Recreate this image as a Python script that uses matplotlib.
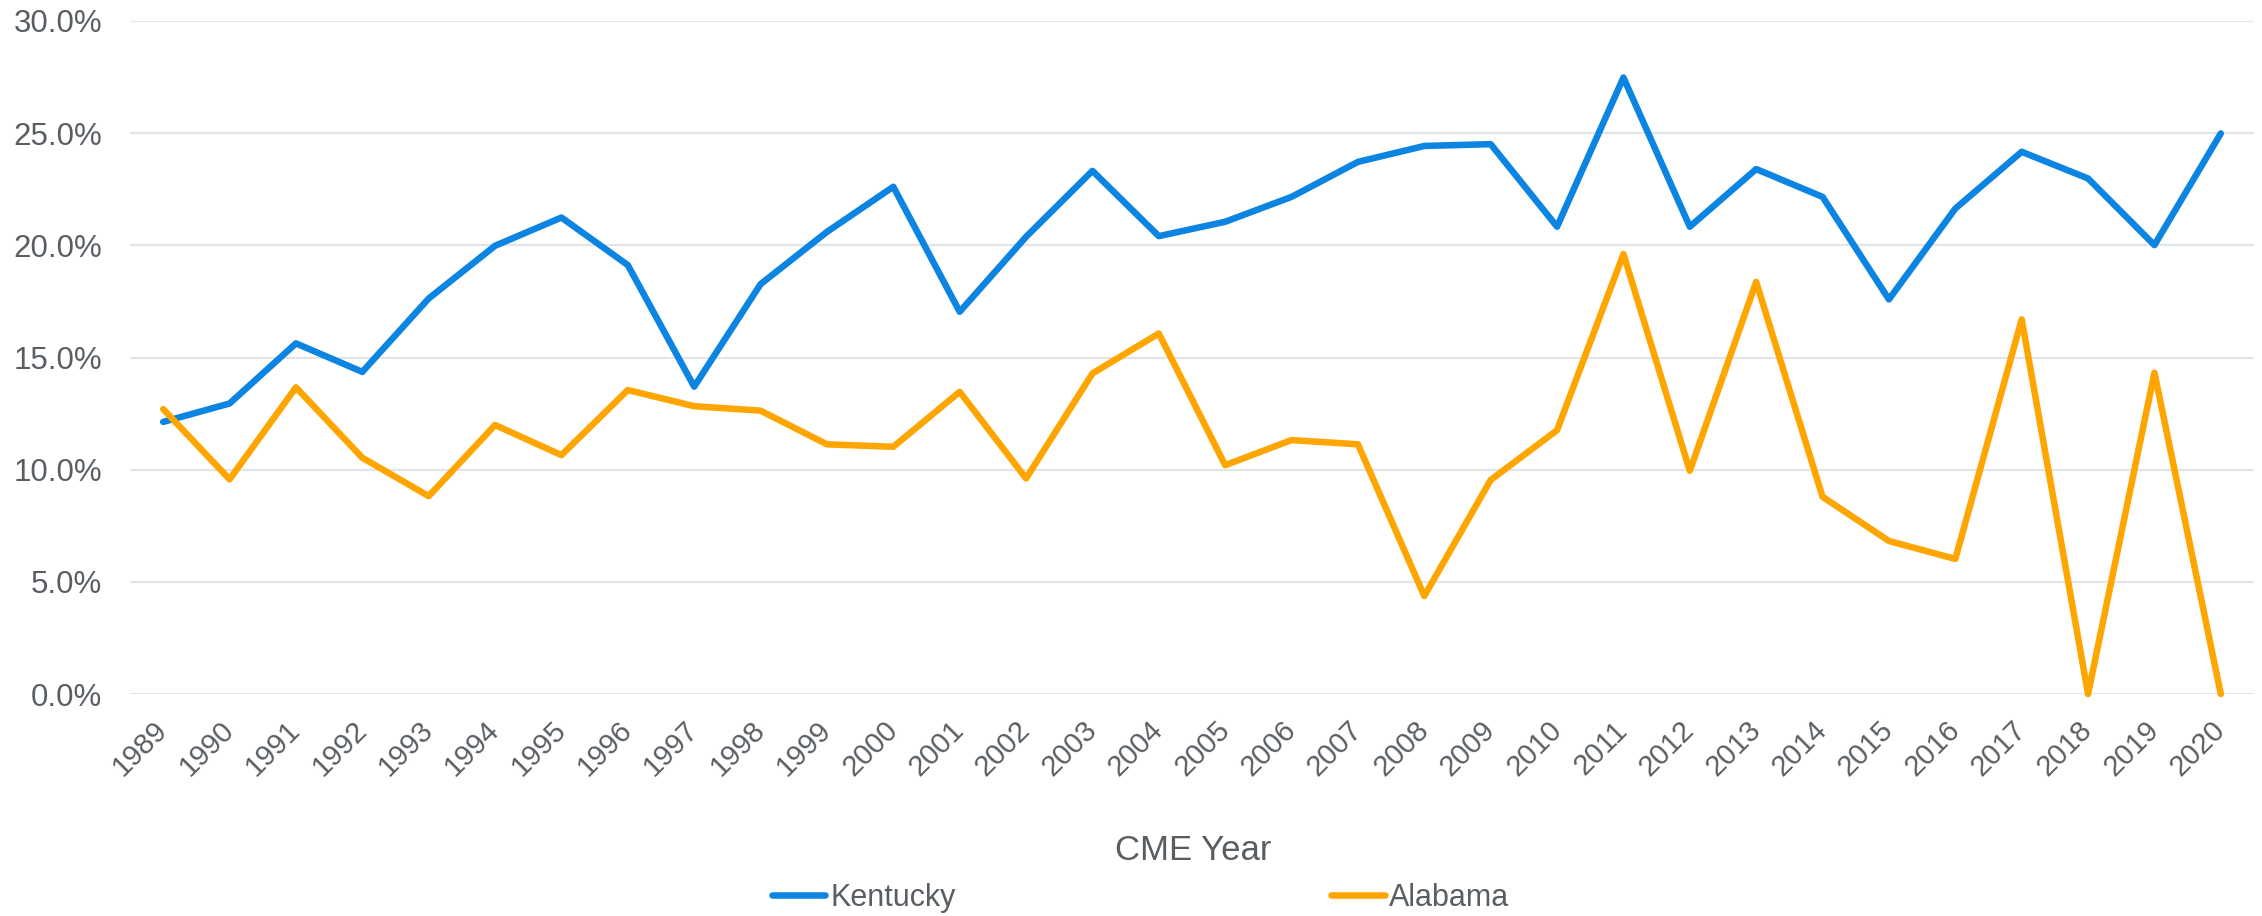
import matplotlib
matplotlib.use("Agg")
import matplotlib.pyplot as plt

years = [str(y) for y in range(1989, 2021)]
kentucky = [12.13, 12.95, 15.63, 14.36, 17.63, 19.98, 21.24, 19.12, 13.70, 18.27,
            20.60, 22.61, 17.04, 20.38, 23.32, 20.41, 21.05, 22.16, 23.72, 24.43,
            24.51, 20.83, 27.48, 20.83, 23.40, 22.16, 17.59, 21.64, 24.17, 22.98,
            20.01, 24.99]
alabama = [12.70, 9.57, 13.67, 10.53, 8.82, 11.99, 10.65, 13.55, 12.83, 12.63,
           11.13, 11.02, 13.47, 9.61, 14.29, 16.07, 10.20, 11.32, 11.13, 4.37,
           9.54, 11.76, 19.61, 9.95, 18.37, 8.79, 6.82, 6.02, 16.70, 0.0,
           14.32, 0.0]
y_ticks = [0, 5, 10, 15, 20, 25, 30]

TEXT = "#595E63"
GRID = "#E1E4E8"
BLUE = "#0B84E2"
ORANGE = "#FFA500"

plt.rcParams['font.family'] = ['Liberation Sans', 'DejaVu Sans']

W, H = 2262, 916
fig = plt.figure(figsize=(W / 100, H / 100), dpi=100)
ax = fig.add_axes([130 / W, 1 - 694 / H, (2254 - 130) / W, (694 - 21) / H])

x = list(range(len(years)))
ax.plot(x, kentucky, color=BLUE, lw=4.7, solid_joinstyle='round',
        solid_capstyle='round', label='Kentucky', clip_on=False)
ax.plot(x, alabama, color=ORANGE, lw=4.7, solid_joinstyle='round',
        solid_capstyle='round', label='Alabama', clip_on=False)

ax.set_xlim(-0.5, len(years) - 0.5)
ax.set_ylim(0, 30)
ax.set_yticks(y_ticks, labels=[f"{v:.1f}%" for v in y_ticks], fontsize=22.5,
              color=TEXT)
ax.set_xticks(x)
ax.set_xticklabels(years, rotation=45, ha='right', va='center',
                   rotation_mode='anchor', fontsize=21, color=TEXT)
ax.tick_params(axis='x', length=0, pad=23)
ax.tick_params(axis='y', length=0, pad=20)
ax.grid(axis='y', color=GRID, lw=1.5)
ax.set_axisbelow(True)
for s in ax.spines.values():
    s.set_visible(False)

fig.text(1193 / W, 1 - 851 / H, "CME Year", ha='center', va='center',
         fontsize=25, color=TEXT)

fig.legend(loc='center left', bbox_to_anchor=(772 / W, 1 - 898 / H),
           ncol=2, frameon=False, fontsize=22, labelcolor=TEXT,
           handlelength=1.75, handletextpad=0.15, columnspacing=12.3,
           borderaxespad=0, borderpad=0)

fig.savefig("out.png", dpi=100)
